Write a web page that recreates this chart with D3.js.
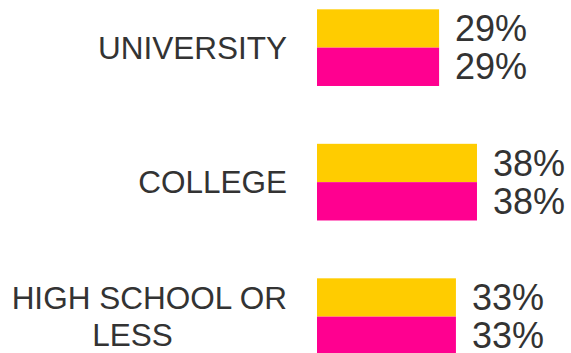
<!DOCTYPE html>
<html>
<head>
<meta charset="utf-8">
<script src="https://cdn.jsdelivr.net/npm/d3@7/dist/d3.min.js"></script>
<style>
  html, body { margin: 0; padding: 0; background: #ffffff; }
  svg { display: block; font-family: "Liberation Sans", Arial, sans-serif; }
</style>
</head>
<body>
<svg id="chart" width="571" height="353"></svg>
<script>
// Education levels and the share for each of the two series
const categories = ["UNIVERSITY", "COLLEGE", "HIGH SCHOOL OR LESS"];
const seriesNames = ["Series A", "Series B"];
const seriesA = [29, 38, 33];
const seriesB = [29, 38, 33];
const seriesColors = ["#FFCC00", "#FF0090"];

const width = 571, height = 353;
const svg = d3.select("#chart");

const rows = categories.map((c, i) => ({
  category: c,
  values: [seriesA[i], seriesB[i]]
}));

// Value axis (percent) runs from the bar baseline to the right
const x = d3.scaleLinear().domain([0, 100]).range([317, 738]);

// One band per category, split into two sub-bands for the series
const y = d3.scaleBand()
  .domain(categories)
  .range([-19.6, 383.9])
  .paddingInner(0.43)
  .paddingOuter(0.215);

const ySub = d3.scaleBand()
  .domain(seriesNames.map((_, i) => i))
  .range([0, y.bandwidth()])
  .padding(0);

const groups = svg.append("g")
  .selectAll("g")
  .data(rows)
  .join("g")
  .attr("transform", d => `translate(0,${y(d.category)})`);

groups.selectAll("rect")
  .data(d => d.values.map((v, i) => ({ v, i })))
  .join("rect")
  .attr("x", x(0))
  .attr("y", d => ySub(d.i))
  .attr("width", d => x(d.v) - x(0))
  .attr("height", ySub.bandwidth())
  .attr("fill", d => seriesColors[d.i]);

// Value labels to the right of each bar
groups.selectAll("text.value")
  .data(d => d.values.map((v, i) => ({ v, i })))
  .join("text")
  .attr("class", "value")
  .attr("x", d => x(d.v) + 16)
  .attr("y", d => ySub(d.i) + ySub.bandwidth() / 2)
  .attr("dy", "0.35em")
  .attr("font-size", 36)
  .attr("fill", "#333333")
  .text(d => d.v + "%");

// Category labels, wrapped onto two lines when too long
const labelRight = 287;
const lineHeight = 36.7;
groups.each(function(d) {
  const g = d3.select(this);
  const cy = y.bandwidth() / 2;
  const lines = d.category.length > 14
    ? [d.category.slice(0, d.category.lastIndexOf(" ")), d.category.slice(d.category.lastIndexOf(" ") + 1)]
    : [d.category];
  const t = g.append("text")
    .attr("font-size", 31.5)
    .attr("fill", "#333333");
  const first = (lines.length - 1) / 2;
  lines.forEach((ln, k) => {
    const isCont = k > 0;
    t.append("tspan")
      .attr("x", isCont ? labelRight - 154.5 : labelRight)
      .attr("text-anchor", isCont ? "middle" : "end")
      .attr("y", cy + (k - first) * lineHeight)
      .attr("dy", "0.35em")
      .text(ln);
  });
});
</script>
</body>
</html>
